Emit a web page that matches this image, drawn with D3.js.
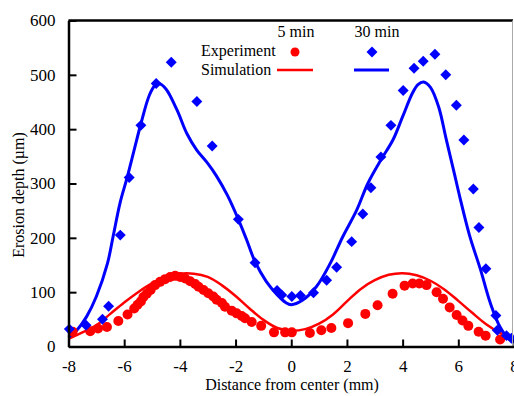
<!DOCTYPE html>
<html><head><meta charset="utf-8">
<script src="https://cdn.jsdelivr.net/npm/d3@7"></script>
<style>body{margin:0;background:#fff}svg{display:block}svg text{font-family:'Times New Roman','Liberation Serif',Times,serif !important;fill:#000}</style>
</head><body><svg id="c" width="514" height="396"></svg>
<script>
const xTicks=[-8,-6,-4,-2,0,2,4,6,8];
const yTicks=[0,100,200,300,400,500,600];
// 5 min experiment (circles)
const exp5X=[-7.85,-7.22,-6.94,-6.62,-6.21,-5.88,-5.64,-5.52,-5.40,-5.31,-5.19,-5.05,-4.89,-4.71,-4.53,-4.35,-4.17,-3.99,-3.81,-3.63,-3.45,-3.33,-3.15,-2.98,-2.80,-2.68,-2.49,-2.38,-2.14,-1.96,-1.78,-1.66,-1.42,-1.08,-0.62,-0.22,0.02,0.67,1.08,1.44,2.04,2.66,3.10,3.64,4.07,4.36,4.60,4.86,5.22,5.45,5.69,5.94,6.15,6.36,6.73,6.98,7.50];
const exp5Y=[27,28,33,36,47,59,70,77,83,91,97,104,113,119,124,128,130,128,125,120,115,110,104,98,92,86,80,73,66,61,56,52,45,38,26,26,26,25,30,34,43,60,76,97,112,116,116,113,100,88,72,58,48,38,27,20,13];
// 30 min experiment (diamonds)
const exp30X=[-7.97,-7.37,-6.78,-6.56,-6.14,-5.82,-5.40,-4.85,-4.31,-3.39,-2.84,-1.90,-1.30,-0.51,-0.34,0.02,0.33,0.80,1.27,1.63,2.17,2.57,2.86,3.22,3.58,4.02,4.41,4.74,5.16,5.55,5.93,6.20,6.54,6.74,6.99,7.35,7.40,7.73,7.91];
const exp30Y=[32,39,50,74,205,311,407,484,523,451,369,234,154,103,95,92,94,99,122,146,193,244,292,349,407,471,512,525,538,500,444,380,290,219,143,57,30,20,15];
// 5 min simulation
const sim5X=[-8,-7.5,-7,-6.5,-6,-5.5,-5,-4.5,-4,-3.5,-3,-2.5,-2,-1.5,-1,-0.5,0,0.5,1,1.5,2,2.5,3,3.5,4,4.5,5,5.5,6,6.5,7,7.5,8];
const sim5Y=[14,26,39,60,81,100,116,127,134,134,128,113,93,70,49,34,29,32,42,59,83,106,122,132,135,131,121,105,84,62,41,25,13];
// 30 min simulation
const sim30X=[-8,-7.7,-7.35,-7,-6.6,-6.4,-6.15,-5.9,-5.65,-5.4,-5.1,-4.9,-4.75,-4.5,-4.1,-3.75,-3.4,-3,-2.7,-2.3,-1.9,-1.6,-1.3,-0.9,-0.5,-0.2,0,0.4,0.9,1.4,1.85,2.35,2.75,3.25,3.65,4.0,4.35,4.55,4.75,5.0,5.3,5.55,5.85,6.05,6.4,6.8,7.15,7.5,7.85,8];
const sim30Y=[17,30,55,92,153,202,264,310,360,410,462,480,484,474,435,392,362,337,315,279,234,196,156,120,95,81,77,85,110,153,202,251,300,346,380,423,466,482,487,477,440,385,320,276,205,141,80,36,12,8];

const FONT="'Times New Roman','Liberation Serif',Times,serif";
const svg=d3.select("#c");
const L=68.5,R=514,T=20.5,B=346.5;
const x=d3.scaleLinear().domain([-8,8]).range([L,R]);
const y=d3.scaleLinear().domain([0,600]).range([B,T]);
const RED="#ff0000",BLUE="#0000ff";

const line=d3.line().x(d=>x(d[0])).y(d=>y(d[1])).curve(d3.curveCatmullRom.alpha(0.5));
svg.append("path").attr("d",line(d3.zip(sim5X,sim5Y))).attr("fill","none").attr("stroke",RED).attr("stroke-width",2.5);
svg.append("path").attr("d",line(d3.zip(sim30X,sim30Y))).attr("fill","none").attr("stroke",BLUE).attr("stroke-width",3);

svg.append("g").selectAll("circle").data(d3.zip(exp5X,exp5Y)).join("circle")
  .attr("cx",d=>x(d[0])).attr("cy",d=>y(d[1])).attr("r",5).attr("fill",RED);
const dia=d3.symbol().type(d3.symbolSquare).size(60);
svg.append("g").selectAll("path").data(d3.zip(exp30X,exp30Y)).join("path")
  .attr("d",dia).attr("transform",d=>`translate(${x(d[0])},${y(d[1])}) rotate(45)`).attr("fill",BLUE);

svg.append("line").attr("x1",L).attr("x2",513).attr("y1",T).attr("y2",T).attr("stroke","#000").attr("stroke-width",2.5);
svg.append("line").attr("x1",512.5).attr("x2",512.5).attr("y1",T).attr("y2",B).attr("stroke","#aaa").attr("stroke-width",1);

const xa=svg.append("g").attr("transform",`translate(0,${B})`)
  .call(d3.axisBottom(x).tickValues(xTicks).tickSizeInner(-7).tickSizeOuter(0).tickPadding(13).tickFormat(d3.format("d")));
const ya=svg.append("g").attr("transform",`translate(${L},0)`)
  .call(d3.axisLeft(y).tickValues(yTicks).tickSizeInner(-8).tickSizeOuter(0).tickPadding(13).tickFormat(d3.format("d")));
[xa,ya].forEach(a=>{
  a.attr("font-family",FONT).attr("font-size",17);
  a.select(".domain").attr("stroke","#000").attr("stroke-width",2.5);
  a.selectAll(".tick line").attr("stroke","#000").attr("stroke-width",2);
  a.selectAll("text").attr("font-family",FONT).attr("font-size",17).attr("fill","#000");
});
xa.selectAll("text").text(d=>d<0?"-"+Math.abs(d):d);

const g=svg.append("g").attr("font-family",FONT).attr("font-size",16);
g.append("text").attr("x",292).attr("y",390).attr("text-anchor","middle").text("Distance from center (mm)");
g.append("text").attr("transform","translate(24,195) rotate(-90)").attr("text-anchor","middle").text("Erosion depth (µm)");
g.append("text").attr("x",296).attr("y",37).attr("text-anchor","middle").text("5 min");
g.append("text").attr("x",377).attr("y",37).attr("text-anchor","middle").text("30 min");
g.append("text").attr("x",201).attr("y",56).text("Experiment");
g.append("text").attr("x",201).attr("y",75).text("Simulation");
svg.append("circle").attr("cx",295).attr("cy",52).attr("r",4.5).attr("fill",RED);
svg.append("path").attr("d",dia).attr("transform","translate(372,52) rotate(45)").attr("fill",BLUE);
svg.append("line").attr("x1",277).attr("x2",313).attr("y1",70).attr("y2",70).attr("stroke",RED).attr("stroke-width",2.5);
svg.append("line").attr("x1",354).attr("x2",389).attr("y1",70).attr("y2",70).attr("stroke",BLUE).attr("stroke-width",3);
</script></body></html>
